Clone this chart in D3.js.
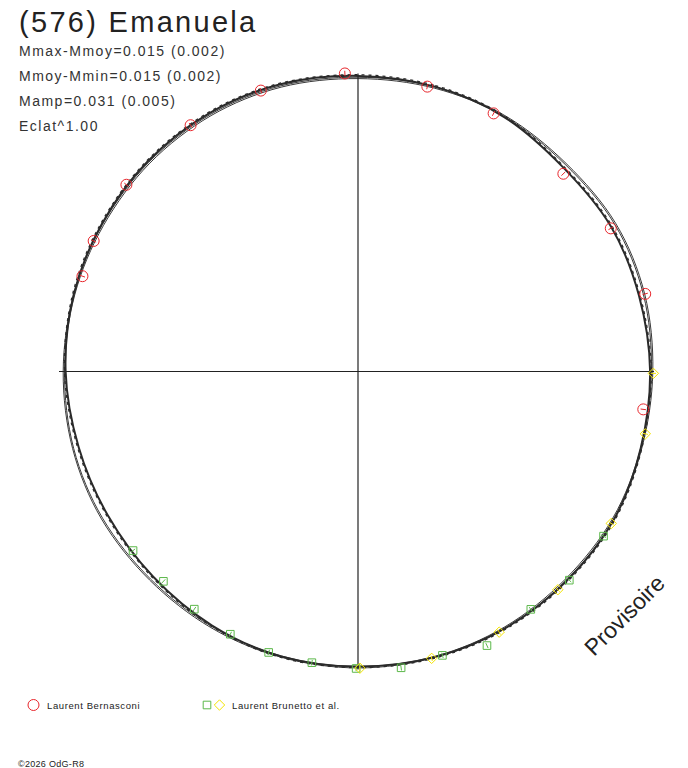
<!DOCTYPE html>
<html>
<head>
<meta charset="utf-8">
<script src="https://cdn.jsdelivr.net/npm/d3@7"></script>
<style>
  body { margin: 0; background: #fff; }
  svg { display: block; }
  .info { font-family: "Liberation Sans", Arial, sans-serif; fill: #333; }
  .legend { font-family: "Liberation Sans", Arial, sans-serif; font-size: 9.5px; letter-spacing: 0.6px; fill: #222; }
</style>
</head>
<body>
<script>
    //title and stat lines
    var title = "(576) Emanuela";
    var infoLines = ["Mmax-Mmoy=0.015 (0.002)", "Mmoy-Mmin=0.015 (0.002)", "Mamp=0.031 (0.005)", "Eclat^1.00"];
    var observers = ["Laurent Bernasconi", "Laurent Brunetto et al."];

    //model curves: phase grid and relative magnitudes
    var curvePhase = [0, 0.042, 0.083, 0.125, 0.167, 0.208, 0.25, 0.292, 0.333, 0.375, 0.417, 0.458,
                      0.5, 0.542, 0.583, 0.625, 0.667, 0.708, 0.75, 0.792, 0.833, 0.875, 0.917, 0.958];
    var thickMag = [-0.006, -0.004, 0.002, 0.017, 0.009, 0.011, 0.007, 0.004, -0.006, -0.006, -0.007, -0.006,
                    -0.004, -0.004, 0.004, 0.015, 0.020, 0.017, 0.006, -0.002, -0.006, -0.012, -0.015, -0.013];
    var fitMagA = [0.004, 0.002, 0.000, 0.004, -0.007, -0.006, 0.002, 0.004, 0.000, 0.002, -0.002, -0.004,
                   -0.004, -0.002, 0.000, 0.002, -0.002, -0.002, 0.002, 0.002, 0.002, -0.002, -0.004, -0.002];
    var fitMagB = [-0.001, -0.003, -0.004, -0.001, -0.012, -0.011, -0.003, 0.000, -0.005, -0.003, -0.007, -0.008,
                   -0.009, -0.007, -0.005, -0.003, -0.007, -0.006, -0.003, -0.002, -0.003, -0.007, -0.009, -0.007];

    //observations (phase, relative magnitude)
    var redPhase = [0.803, 0.823, 0.858, 0.905, 0.947, 0.993, 0.038, 0.077, 0.128, 0.168, 0.208, 0.271];
    var redMag   = [0.009, -0.003, -0.013, -0.014, -0.012, -0.016, 0.003, 0.009, 0.033, 0.013, -0.013, 0.023];
    var greenPhase = [0.643, 0.619, 0.596, 0.572, 0.549, 0.525, 0.501, 0.477, 0.454, 0.430, 0.400, 0.374, 0.344];
    var greenMag   = [0.024, 0.029, 0.020, 0.007, -0.003, -0.003, -0.011, -0.020, -0.008, -0.033, 0.000, -0.011, -0.006];
    var yellowPhase = [0.251, 0.284, 0.336, 0.382, 0.421, 0.460, 0.499];
    var yellowMag   = [-0.005, 0.000, -0.005, -0.007, -0.009, -0.008, -0.010];
    var magErr = 0.01;

window.onload = drawChart();

function drawChart() {
    var width = 688,
        height = 768;
    var cx = 358, cy = 371.5;

    var svg = d3.select("body")
        .append("svg")
        .attr("width", width)
        .attr("height", height);

    //brighter = further out
    var rScale = d3.scaleLinear().domain([-0.05, 0.05]).range([307.5, 280.5]);
    var aScale = d3.scaleLinear().domain([0, 1]).range([0, 2 * Math.PI]);

    var plot = svg.append("g").attr("transform", "translate(" + cx + "," + cy + ")");

    //axes
    plot.append("line").attr("x1", -299).attr("x2", 296).attr("y1", 0).attr("y2", 0)
        .attr("stroke", "#222").attr("stroke-width", 1.2);
    plot.append("line").attr("x1", 0).attr("x2", 0).attr("y1", -298).attr("y2", 298)
        .attr("stroke", "#222").attr("stroke-width", 1.2);

    function radial(mags, scale) {
        return d3.lineRadial()
            .angle(function(d, i){ return aScale(curvePhase[i]); })
            .radius(function(d){ return scale(d); })
            .curve(d3.curveCardinalClosed)(mags);
    }

    //thin fit lines
    [fitMagA, fitMagB].forEach(function(m){
        plot.append("path").attr("d", radial(m, rScale))
            .attr("fill", "none").attr("stroke", "#222").attr("stroke-width", 0.9);
    });

    //thick noisy model band
    plot.append("path").attr("d", radial(thickMag, rScale))
        .attr("fill", "none").attr("stroke", "#2a2a2a").attr("stroke-width", 2);
    var rOuter = rScale.copy().range([308.6, 281.6]);
    plot.append("path").attr("d", radial(thickMag, rOuter))
        .attr("fill", "none").attr("stroke", "#2a2a2a").attr("stroke-width", 1.3)
        .attr("stroke-dasharray", "3,4");

    //observations
    function pts(phases, mags) {
        return phases.map(function(p, i){ return {a: aScale(p), m: mags[i]}; });
    }
    var series = [
        {data: pts(redPhase, redMag), color: "#e8262c", shape: "circle"},
        {data: pts(greenPhase, greenMag), color: "#5cb84a", shape: "square"},
        {data: pts(yellowPhase, yellowMag), color: "#f4e400", shape: "diamond"}
    ];

    series.forEach(function(s){
        var g = plot.append("g");
        g.selectAll(".err").data(s.data).enter().append("line")
            .attr("x1", function(d){ return d3.pointRadial(d.a, rScale(d.m - magErr))[0]; })
            .attr("y1", function(d){ return d3.pointRadial(d.a, rScale(d.m - magErr))[1]; })
            .attr("x2", function(d){ return d3.pointRadial(d.a, rScale(d.m + magErr))[0]; })
            .attr("y2", function(d){ return d3.pointRadial(d.a, rScale(d.m + magErr))[1]; })
            .attr("stroke", s.color).attr("stroke-width", 1);
        g.selectAll(".mk").data(s.data).enter().append("path")
            .attr("transform", function(d){
                var p = d3.pointRadial(d.a, rScale(d.m));
                return "translate(" + p[0] + "," + p[1] + ")";
            })
            .attr("d", markerPath(s.shape))
            .attr("fill", "none").attr("stroke", s.color).attr("stroke-width", 1);
    });

    //title and stats
    svg.append("text").attr("class", "info").attr("x", 19).attr("y", 32)
        .style("font-size", "29px").style("letter-spacing", "2.3px").style("fill", "#222").text(title);
    svg.selectAll(".stat").data(infoLines).enter().append("text")
        .attr("class", "info")
        .attr("x", 19)
        .attr("y", function(d, i){ return 55.5 + i * 25; })
        .style("font-size", "14px")
        .style("letter-spacing", "1.5px")
        .text(function(d){ return d; });

    //legend
    var leg = svg.append("g");
    leg.append("path").attr("transform", "translate(33.5,705)").attr("d", markerPath("circle"))
        .attr("fill", "none").attr("stroke", "#e8262c");
    leg.append("text").attr("class", "legend").attr("x", 47).attr("y", 709).text(observers[0]);
    leg.append("path").attr("transform", "translate(207,705)").attr("d", markerPath("square"))
        .attr("fill", "none").attr("stroke", "#5cb84a");
    leg.append("path").attr("transform", "translate(219.5,705)").attr("d", markerPath("diamond"))
        .attr("fill", "none").attr("stroke", "#f4e400");
    leg.append("text").attr("class", "legend").attr("x", 232).attr("y", 709).text(observers[1]);

    svg.append("text").attr("class", "legend").attr("x", 18).attr("y", 767)
        .style("font-size", "9px").style("letter-spacing", "0.3px").text("©2026 OdG-R8");

    //watermark
    svg.append("text").attr("class", "info")
        .attr("transform", "translate(594,657) rotate(-45)")
        .style("font-size", "23px").style("fill", "#222")
        .text("Provisoire");
};

function markerPath(shape) {
    if (shape == "circle") return d3.symbol().type(d3.symbolCircle).size(Math.PI * 5.5 * 5.5)();
    if (shape == "square") return "M-3.8,-3.8H3.8V3.8H-3.8Z";
    return "M0,-5.2L5.2,0L0,5.2L-5.2,0Z";
};
</script>
</body>
</html>
